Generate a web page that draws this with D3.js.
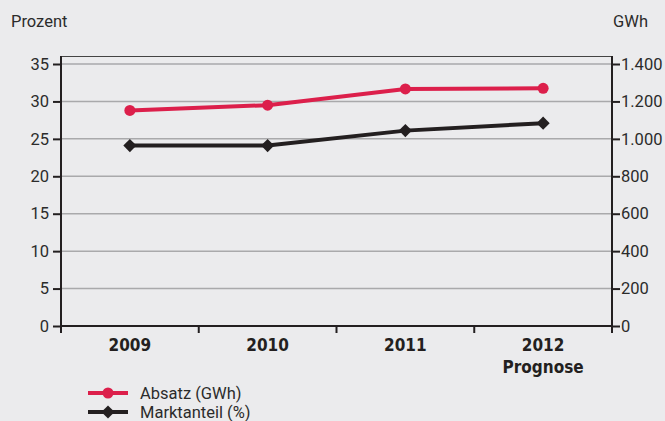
<!DOCTYPE html>
<html>
<head>
<meta charset="utf-8">
<script src="https://cdn.jsdelivr.net/npm/d3@7"></script>
<style>
  body { margin: 0; background: #ebebed; }
  svg { display: block; font-family: "Liberation Sans Narrow", "Roboto", sans-serif; }
</style>
</head>
<body>
<svg id="chart" width="665" height="421"></svg>
<script>
// data
var years = ["2009", "2010", "2011", "2012"];
var yearSub = ["", "", "", "Prognose"];
var absatz = [1152, 1180, 1267, 1270];       // GWh, right axis
var marktanteil = [24.1, 24.1, 26.1, 27.1];  // %, left axis
var leftTicks = [0, 5, 10, 15, 20, 25, 30, 35];
var rightTicks = [0, 200, 400, 600, 800, 1000, 1200, 1400];

var red = "#dc1f4b", dark = "#231f20", grid = "#a9a9ab";

var svg = d3.select("#chart");
var m = { left: 61, right: 612, top: 56, bottom: 326 };

var x = d3.scaleBand().domain(years).range([m.left, m.right]);
var yL = d3.scaleLinear().domain([0, 35]).range([m.bottom, 64]);
var yR = d3.scaleLinear().domain([0, 1400]).range([m.bottom, 64]);

// gridlines
svg.append("g").selectAll("line")
  .data(leftTicks.filter(function(d) { return d > 0; }))
  .enter().append("line")
  .attr("x1", m.left).attr("x2", m.right)
  .attr("y1", function(d) { return yL(d); })
  .attr("y2", function(d) { return yL(d); })
  .attr("stroke", grid).attr("stroke-width", 1.5);

// top border
svg.append("line")
  .attr("x1", m.left).attr("x2", m.right)
  .attr("y1", m.top + 0.5).attr("y2", m.top + 0.5)
  .attr("stroke", "#444").attr("stroke-width", 1);

// left axis
var gl = svg.append("g")
  .attr("transform", "translate(" + m.left + ",0)")
  .call(d3.axisLeft(yL).tickValues(leftTicks).tickSize(8).tickPadding(4));
gl.select(".domain").attr("d", "M0," + m.top + "V" + (m.bottom + 6));

// right axis
var gr = svg.append("g")
  .attr("transform", "translate(" + m.right + ",0)")
  .call(d3.axisRight(yR).tickValues(rightTicks).tickSize(8).tickPadding(1)
    .tickFormat(function(d) { return d3.format(",")(d).replace(/,/g, "."); }));
gr.select(".domain").attr("d", "M0," + m.top + "V" + (m.bottom + 6));

// bottom axis (ticks at band boundaries)
var bounds = years.map(function(d) { return x(d); }).concat([m.right]);
var gb = svg.append("g");
gb.append("line")
  .attr("x1", m.left).attr("x2", m.right)
  .attr("y1", m.bottom).attr("y2", m.bottom)
  .attr("stroke", dark).attr("stroke-width", 2);
gb.selectAll(".bt").data(bounds).enter().append("line")
  .attr("x1", function(d) { return d; }).attr("x2", function(d) { return d; })
  .attr("y1", m.bottom).attr("y2", m.bottom + 7)
  .attr("stroke", dark).attr("stroke-width", 2);

svg.selectAll(".domain, .tick line").attr("stroke", dark).attr("stroke-width", 2);
svg.selectAll(".tick text").attr("font-size", 16.5).attr("fill", "#2b2b2b")
  .attr("font-family", "Liberation Sans Narrow, Roboto, sans-serif");

// year labels
var xl = svg.append("g").attr("font-weight", "bold").attr("font-size", 17)
  .attr("fill", dark).attr("text-anchor", "middle")
  .attr("font-family", "DejaVu Sans Condensed, Liberation Sans Narrow, sans-serif");
xl.selectAll(".yr").data(years).enter().append("text")
  .attr("x", function(d) { return x(d) + x.bandwidth() / 2; })
  .attr("y", 351).text(function(d) { return d; });
xl.selectAll(".sub").data(years).enter().append("text")
  .attr("x", function(d) { return x(d) + x.bandwidth() / 2; })
  .attr("y", 373).text(function(d, i) { return yearSub[i]; });

// axis titles
svg.append("text").attr("x", 11).attr("y", 27).attr("font-size", 16.5)
  .attr("fill", "#2b2b2b").text("Prozent");
svg.append("text").attr("x", 613).attr("y", 27).attr("font-size", 16.5)
  .attr("fill", "#2b2b2b").text("GWh");

// lines
var cx = function(i) { return x(years[i]) + x.bandwidth() / 2; };
var lineR = d3.line().x(function(d, i) { return cx(i); }).y(function(d) { return yR(d); });
var lineL = d3.line().x(function(d, i) { return cx(i); }).y(function(d) { return yL(d); });

svg.append("path").datum(absatz).attr("d", lineR)
  .attr("fill", "none").attr("stroke", red).attr("stroke-width", 4);
svg.selectAll(".pr").data(absatz).enter().append("circle")
  .attr("cx", function(d, i) { return cx(i); }).attr("cy", function(d) { return yR(d); })
  .attr("r", 5.5).attr("fill", red);

var diamond = d3.symbol().type(d3.symbolDiamond2).size(110);
svg.append("path").datum(marktanteil).attr("d", lineL)
  .attr("fill", "none").attr("stroke", dark).attr("stroke-width", 4);
svg.selectAll(".pm").data(marktanteil).enter().append("path")
  .attr("d", diamond)
  .attr("transform", function(d, i) { return "translate(" + cx(i) + "," + yL(d) + ")"; })
  .attr("fill", dark);

// legend
var legend = [
  { label: "Absatz (GWh)", color: red, mark: "circle" },
  { label: "Marktanteil (%)", color: dark, mark: "diamond" }
];
var lg = svg.append("g").selectAll("g").data(legend).enter().append("g")
  .attr("transform", function(d, i) { return "translate(88," + (393 + i * 19) + ")"; });
lg.append("line").attr("x1", 0).attr("x2", 40)
  .attr("stroke", function(d) { return d.color; }).attr("stroke-width", 4);
lg.each(function(d) {
  var g = d3.select(this);
  if (d.mark === "circle") {
    g.append("circle").attr("cx", 20).attr("r", 5.5).attr("fill", d.color);
  } else {
    g.append("path").attr("d", diamond).attr("transform", "translate(20,0)").attr("fill", d.color);
  }
});
lg.append("text").attr("x", 52).attr("y", 6).attr("font-size", 16.5)
  .attr("fill", "#2b2b2b").text(function(d) { return d.label; });
</script>
</body>
</html>
